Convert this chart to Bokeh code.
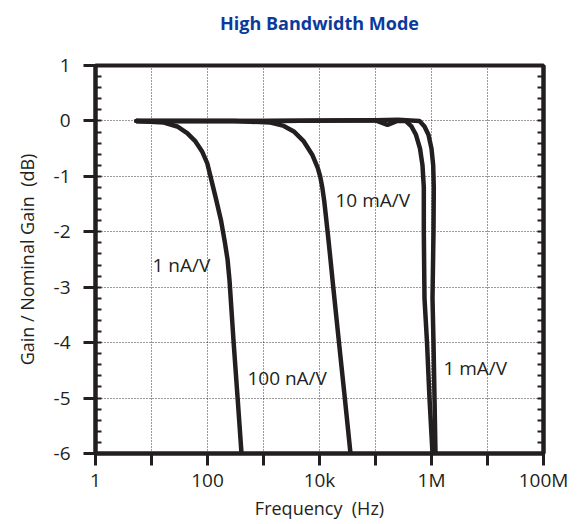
from bokeh.plotting import figure
from bokeh.models import (FixedTicker, SingleIntervalTicker, CustomJSTickFormatter,
                          LinearAxis, Range1d, Label)
from bokeh.embed import file_html
from bokeh.resources import INLINE

# ---- data ----
x_ticks = [1, 10, 100, 1e3, 1e4, 1e5, 1e6, 1e7, 1e8]
x_tick_labels = ["1", "", "100", "", "10k", "", "1M", "", "100M"]

freq_1n = [5.4, 16.6, 28.8, 43.4, 61, 80, 98.8, 113, 139, 174, 205, 228, 247, 293, 345, 405]
gain_1n = [0, -0.03, -0.1, -0.22, -0.37, -0.55, -0.76, -1.0, -1.37, -1.79, -2.2, -2.5,
           -2.87, -4.0, -5.0, -6.0]

freq_100n = [5.4, 300, 1334, 2306, 3475, 5248, 7413, 9330, 10280, 11220, 12160, 13120,
             14060, 15710, 17570, 22290, 28310, 35770]
gain_100n = [0, 0, -0.03, -0.09, -0.19, -0.37, -0.61, -0.85, -1.0, -1.2, -1.45, -1.75,
             -2.03, -2.5, -2.99, -4.0, -5.0, -6.0]

freq_10m = [5.4, 1000, 100000, 163700, 245500, 343600, 439500, 528600, 623600, 690500,
            728800, 728800, 749900, 831800, 920400, 1042000]
gain_10m = [0, 0, 0.01, -0.07, 0.0, 0.0, -0.1, -0.25, -0.5, -0.8,
            -1.2, -2.0, -3.2, -4.0, -5.0, -6.0]

freq_1m = [5.4, 1000, 100000, 251200, 610500, 750000, 883100, 1000000, 1072000, 1099000,
           1086000, 1042000, 1086000, 1132000, 1178000]
gain_1m = [0, 0, 0.01, 0.02, 0.0, -0.1, -0.25, -0.5, -0.8, -1.2,
           -2.0, -3.2, -4.0, -5.0, -6.0]

series_labels = ["1 nA/V", "100 nA/V", "10 mA/V", "1 mA/V"]
label_x = [10.4, 516, 19300, 1630000]
label_y = [-2.6, -4.64, -1.43, -4.46]

title_text = "High Bandwidth Mode"

INK = "#231f20"
FONT = "Open Sans"

p = figure(width=578, height=524, x_axis_type="log",
           x_range=Range1d(1, 1e8), y_range=Range1d(-6, 1),
           output_backend="svg", toolbar_location=None,
           min_border_left=95, min_border_right=35,
           min_border_top=65, min_border_bottom=71,
           background_fill_color="white", border_fill_color="white")

p.title.text = title_text
p.title.align = "center"
p.title.text_font = FONT
p.title.text_font_size = "18px"
p.title.text_font_style = "bold"
p.title.text_color = "#0a3a9c"
p.title.standoff = 0

# invisible spacer between the frame and the title (practically transparent tick)
spacer = LinearAxis(ticker=FixedTicker(ticks=[1e4], minor_ticks=[]),
                    formatter=CustomJSTickFormatter(code="return '';"),
                    major_tick_in=0, major_tick_out=31,
                    minor_tick_in=0, minor_tick_out=0,
                    major_tick_line_color="white", major_tick_line_alpha=0.01,
                    minor_tick_line_color=None,
                    axis_line_color=None, major_label_standoff=0,
                    major_label_text_font_size="1px")
p.add_layout(spacer, "above")

p.outline_line_color = INK
p.outline_line_width = 4
p.outline_line_alpha = 1

# x axis
xa = p.below[0]
xa.ticker = FixedTicker(ticks=x_ticks, minor_ticks=[])
xa.formatter = CustomJSTickFormatter(args=dict(labels=x_tick_labels),
                                     code="return labels[Math.round(Math.log10(tick))];")
xa.major_tick_in = 0
xa.major_tick_out = 12
xa.major_tick_line_width = 3
xa.major_tick_line_color = INK
xa.minor_tick_line_color = None
xa.axis_line_width = 4
xa.axis_line_color = INK
xa.major_label_text_font = FONT
xa.major_label_text_font_size = "19px"
xa.major_label_text_color = INK
xa.major_label_standoff = 1
xa.axis_label = "Frequency\u00a0 (Hz)"
xa.axis_label_text_font = FONT
xa.axis_label_text_font_size = "18px"
xa.axis_label_text_font_style = "normal"
xa.axis_label_text_color = INK
xa.axis_label_standoff = 0

# y axis
ya = p.left[0]
ya.ticker = SingleIntervalTicker(interval=1, num_minor_ticks=5)
ya.formatter = CustomJSTickFormatter(code="return tick.toFixed(0);")
ya.major_tick_in = 0
ya.major_tick_out = 12
ya.major_tick_line_width = 3
ya.major_tick_line_color = INK
ya.minor_tick_in = 6
ya.minor_tick_out = 0
ya.minor_tick_line_width = 2
ya.minor_tick_line_color = INK
ya.axis_line_width = 4
ya.axis_line_color = INK
ya.major_label_text_font = FONT
ya.major_label_text_font_size = "19px"
ya.major_label_text_color = INK
ya.major_label_standoff = 13
ya.axis_label = "Gain / Nominal Gain\u00a0 (dB)"
ya.axis_label_text_font = FONT
ya.axis_label_text_font_size = "18px"
ya.axis_label_text_font_style = "normal"
ya.axis_label_text_color = INK
ya.axis_label_standoff = 12

# right axis: minor ticks only
ra = LinearAxis(ticker=SingleIntervalTicker(interval=1, num_minor_ticks=5),
                formatter=CustomJSTickFormatter(code="return '';"),
                major_tick_in=0, major_tick_out=0,
                minor_tick_in=6, minor_tick_out=0,
                minor_tick_line_width=2, minor_tick_line_color=INK,
                axis_line_width=4, axis_line_color=INK,
                major_label_standoff=0)
p.add_layout(ra, "right")

# grids
for g in (p.xgrid[0], p.ygrid[0]):
    g.grid_line_color = INK
    g.grid_line_dash = "1 2"
    g.grid_line_width = 1
    g.grid_line_alpha = 0.9

# curves
for fx, gy in ((freq_1n, gain_1n), (freq_100n, gain_100n),
               (freq_10m, gain_10m), (freq_1m, gain_1m)):
    p.line(fx, gy, line_color=INK, line_width=4.5, line_join="round", line_cap="round")

for t, lx, ly in zip(series_labels, label_x, label_y):
    p.add_layout(Label(x=lx, y=ly, text=t, text_font=FONT, text_font_size="19px",
                       text_color=INK, text_baseline="middle", text_align="left"))

open("out.html", "w").write(file_html(p, INLINE))
